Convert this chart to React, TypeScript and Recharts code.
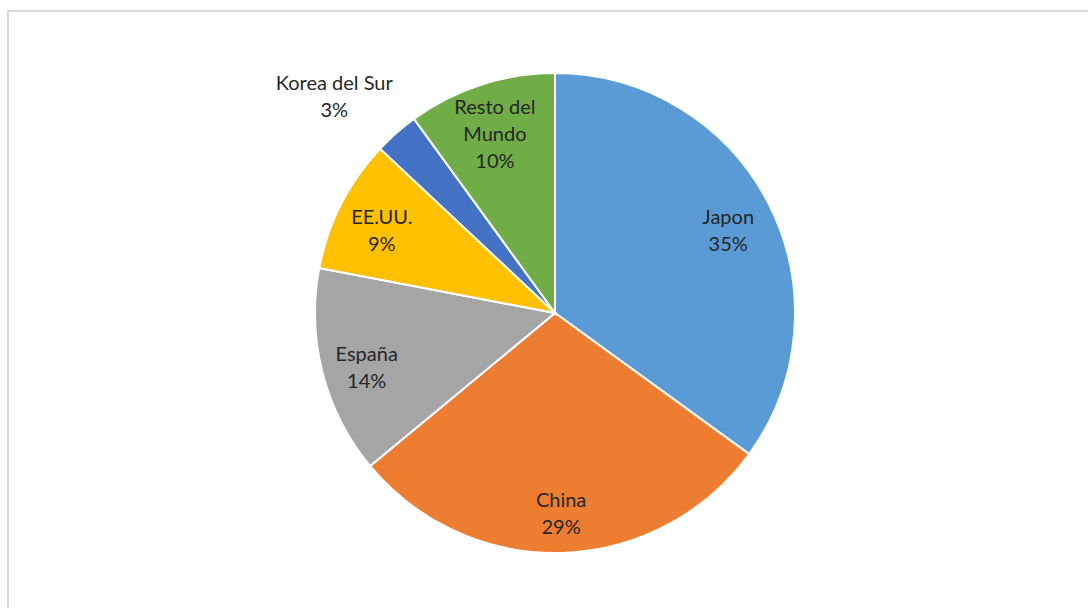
import { PieChart, Pie, Cell } from "recharts";

const countries = ["Japon", "China", "España", "EE.UU.", "Korea del Sur", "Resto del Mundo"];
const shares = [35, 29, 14, 9, 3, 10];
const colors = ["#5B9BD5", "#ED7D31", "#A5A5A5", "#FFC000", "#4472C4", "#70AD47"];

const data = countries.map((name, i) => ({ name, value: shares[i] }));

const RAD = Math.PI / 180;

function wrap(name: string, max: number) {
  const words = name.split(" ");
  const lines: string[] = [];
  let cur = "";
  for (const w of words) {
    const next = cur ? cur + " " + w : w;
    if (next.length > max && cur) {
      lines.push(cur);
      cur = w;
    } else {
      cur = next;
    }
  }
  if (cur) lines.push(cur);
  return lines;
}

function renderLabel(props: any) {
  const { cx, cy, midAngle, outerRadius, percent, name } = props;
  const outside = percent < 0.05;
  const r = outside ? outerRadius + 56 : outerRadius * 0.81;
  let x = cx + r * Math.cos(-midAngle * RAD);
  const y = cy + r * Math.sin(-midAngle * RAD) + 5;
  // outside labels sit a bit further out sideways, like Excel's best fit
  if (outside) x -= 25;
  const lines = outside ? [name] : wrap(name, 10);
  lines.push(`${Math.round(percent * 100)}%`);
  const lh = 27;
  const top = y - ((lines.length - 1) * lh) / 2;
  return (
    <text
      x={x}
      y={top}
      textAnchor="middle"
      dominantBaseline="central"
      fill="#262626"
      fontSize={20}
      fontFamily="Lato, 'Open Sans', sans-serif"
    >
      {lines.map((l, i) => (
        <tspan key={i} x={x} y={top + i * lh}>
          {l}
        </tspan>
      ))}
    </text>
  );
}

export default function App() {
  return (
    <div
      style={{
        position: "fixed",
        left: 0,
        top: 0,
        width: 1088,
        height: 608,
        overflow: "hidden",
        background: "#fff",
      }}
    >
      <div
        style={{
          position: "absolute",
          left: 7,
          top: 10,
          width: 1100,
          height: 620,
          border: "2px solid #d9d9d9",
        }}
      />
      <div style={{ position: "absolute", left: 0, top: 0 }}>
        <PieChart width={1088} height={608} margin={{ top: 0, right: 0, bottom: 0, left: 0 }}>
          <Pie
            data={data}
            dataKey="value"
            nameKey="name"
            cx={555}
            cy={313}
            outerRadius={240}
            startAngle={90}
            endAngle={-270}
            stroke="#fff"
            strokeWidth={2}
            label={renderLabel}
            labelLine={false}
            isAnimationActive={false}
          >
            {data.map((d, i) => (
              <Cell key={d.name} fill={colors[i]} />
            ))}
          </Pie>
        </PieChart>
      </div>
    </div>
  );
}
